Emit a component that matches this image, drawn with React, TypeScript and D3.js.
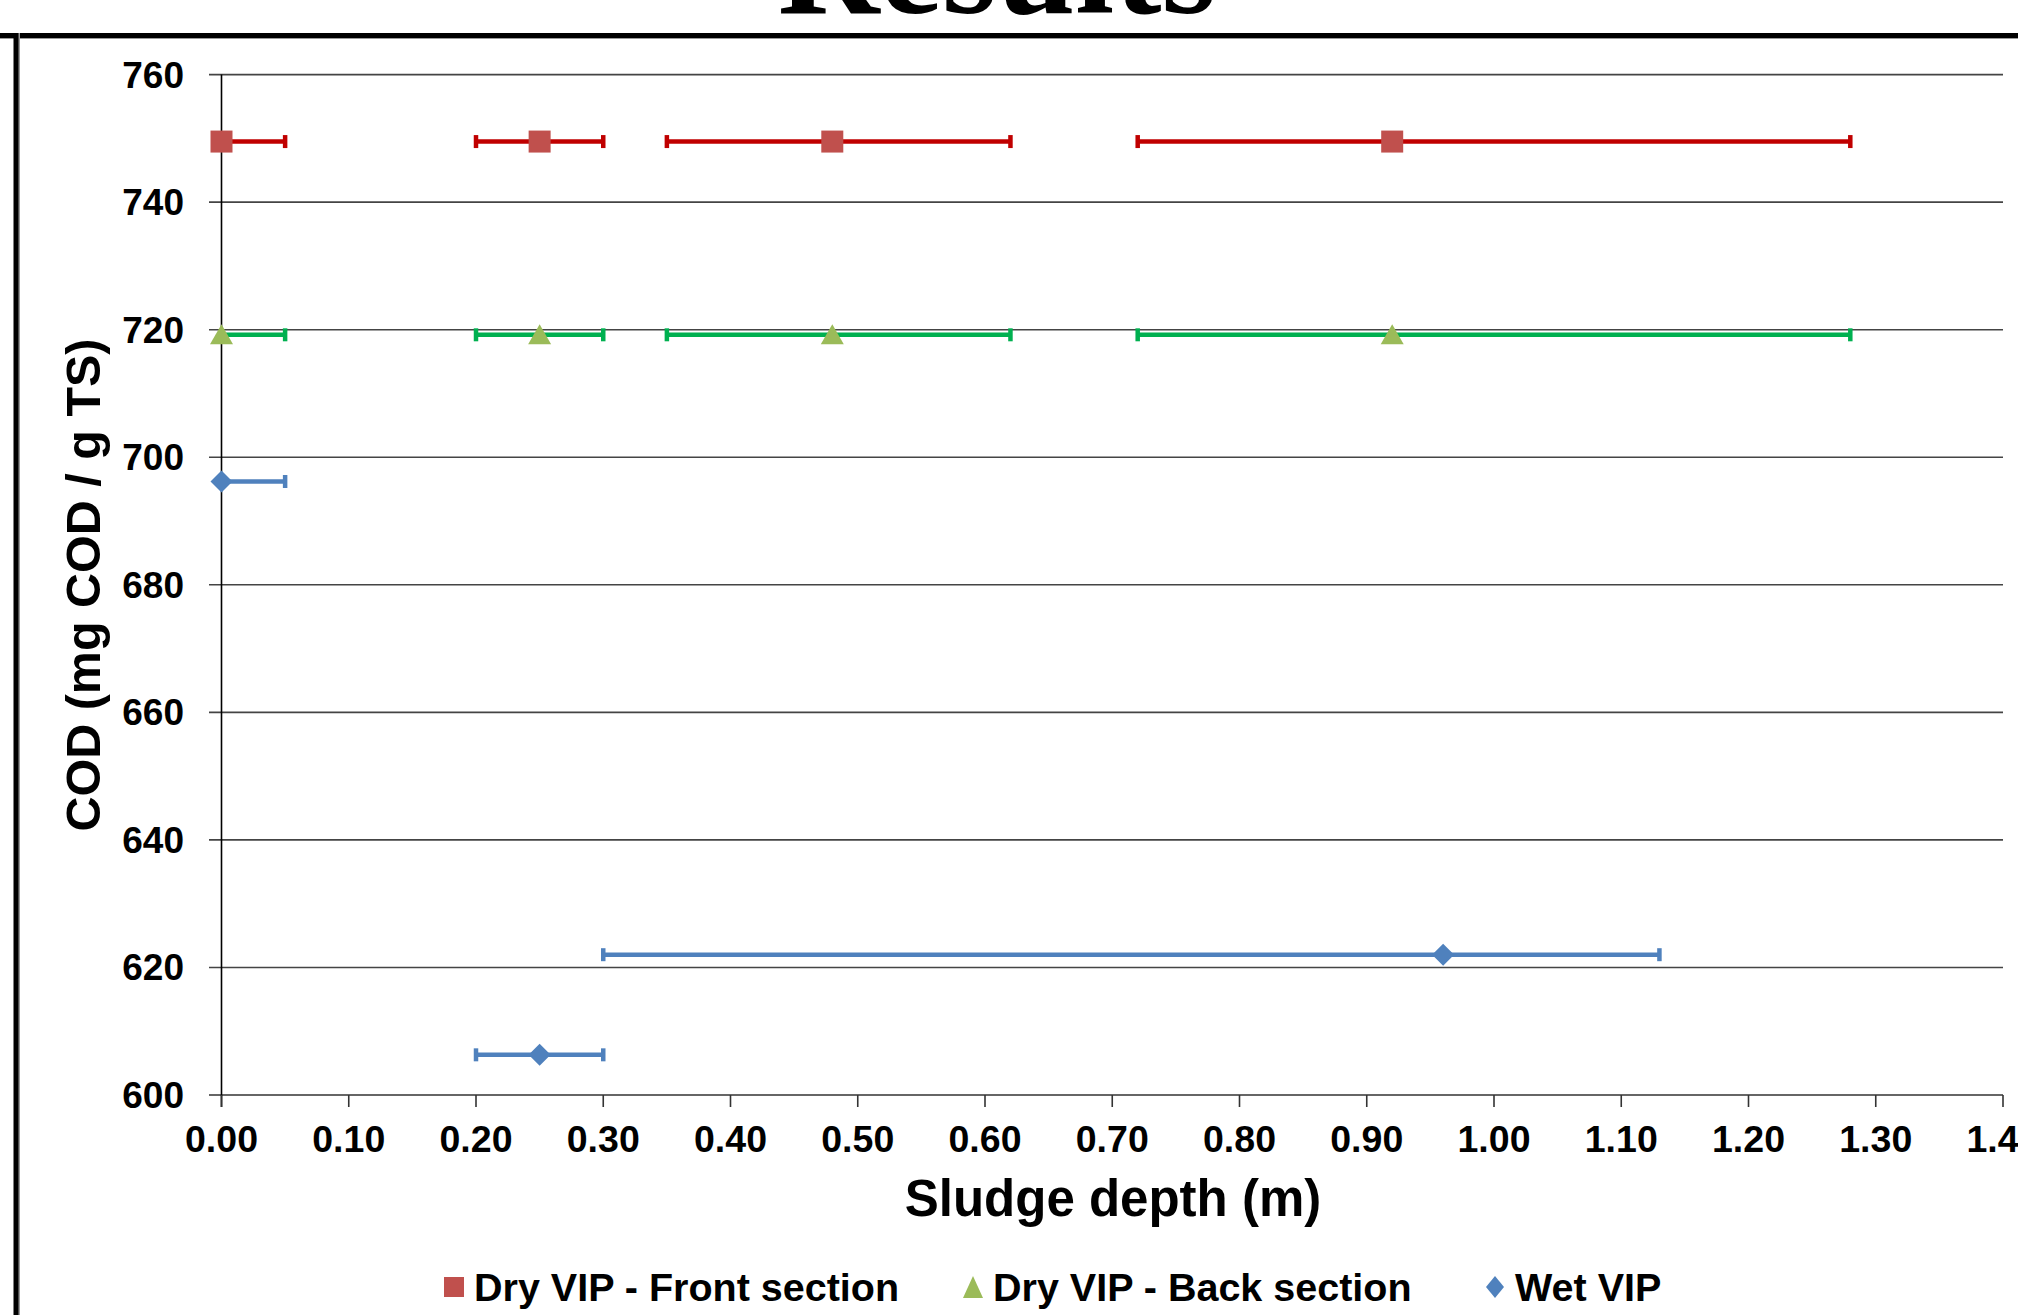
import React from "react";
import * as d3 from "d3";

// sludge depth (m) of each sample point
const dryDepth = [0, 0.25, 0.48, 0.92];
const wetDepth = [0, 0.25, 0.96];

// COD (mg COD / g TS)
const dryFrontCod = [749.5, 749.5, 749.5, 749.5];
const dryBackCod = [719.2, 719.2, 719.2, 719.2];
const wetCod = [696.2, 606.3, 622.0];

// horizontal error bars: depth range covered by each sample
const dryDepthLow = [-0.05, 0.2, 0.35, 0.72];
const dryDepthHigh = [0.05, 0.3, 0.62, 1.28];
const wetDepthLow = [-0.05, 0.2, 0.3];
const wetDepthHigh = [0.05, 0.3, 1.13];

const xTicks = [0, 0.1, 0.2, 0.3, 0.4, 0.5, 0.6, 0.7, 0.8, 0.9, 1.0, 1.1, 1.2, 1.3, 1.4];
const yTicks = [600, 620, 640, 660, 680, 700, 720, 740, 760];

const seriesNames = ["Dry VIP - Front section", "Dry VIP - Back section", "Wet VIP"];

const W = 2018, H = 1315;
const FONT = "'Liberation Sans', Arial, sans-serif";

const x = d3.scaleLinear().domain([0, 1.4]).range([221.5, 2003]);
const y = d3.scaleLinear().domain([600, 760]).range([1095, 74.6]);

// marker shapes (centered on the point)
const squarePath = "M-11,-11H11V11H-11Z";
const trianglePath = "M0,-10.5L11.5,9.5L-11.5,9.5Z";
const diamondPath = "M0,-11L11,0L0,11L-11,0Z";

const series = [
  { name: seriesNames[0], depth: dryDepth, cod: dryFrontCod, lo: dryDepthLow, hi: dryDepthHigh,
    marker: "#C0504D", bar: "#C00000", path: squarePath, legend: "M-10,-10H10V10H-10Z" },
  { name: seriesNames[1], depth: dryDepth, cod: dryBackCod, lo: dryDepthLow, hi: dryDepthHigh,
    marker: "#9BBB59", bar: "#00B050", path: trianglePath, legend: "M0,-11L10,11L-10,11Z" },
  { name: seriesNames[2], depth: wetDepth, cod: wetCod, lo: wetDepthLow, hi: wetDepthHigh,
    marker: "#4F81BD", bar: "#4F81BD", path: diamondPath, legend: "M0,-11L9,0L0,11L-9,0Z" },
];

const fmt = d3.format(".2f");

function ErrorBar({ lo, hi, v, color }: { lo: number; hi: number; v: number; color: string }) {
  const x0 = x(Math.max(lo, 0));
  const x1 = x(hi);
  const yy = y(v);
  return (
    <g stroke={color} strokeWidth={4.5}>
      <line x1={x0} x2={x1} y1={yy} y2={yy} />
      {lo >= 0 && <line x1={x0} x2={x0} y1={yy - 6.5} y2={yy + 6.5} />}
      <line x1={x1} x2={x1} y1={yy - 6.5} y2={yy + 6.5} />
    </g>
  );
}

export default function App() {
  const legendX = [454, 973, 1495];

  return (
    <svg width={W} height={H} style={{ position: "absolute", left: 0, top: 0, background: "#fff" }}>
      <rect width={W} height={H} fill="#fff" />

      {/* slide title, cut off at the top */}
      <text x={997} y={13} textAnchor="middle" fontFamily="'Liberation Serif', 'Times New Roman', serif"
        fontWeight="bold" fontSize={141} fill="#000">Results</text>

      {/* slide frame lines */}
      <line x1={0} x2={W} y1={38} y2={38} stroke="#999" strokeWidth={2} />
      <line x1={0} x2={W} y1={35.5} y2={35.5} stroke="#000" strokeWidth={5} />
      <line x1={19} x2={19} y1={33} y2={H} stroke="#999" strokeWidth={2} />
      <line x1={16} x2={16} y1={33} y2={H} stroke="#000" strokeWidth={5} />

      {/* gridlines and y ticks */}
      {yTicks.map((t) => (
        <g key={t}>
          <line x1={209} x2={x(1.4)} y1={y(t)} y2={y(t)} stroke={t === 600 ? "#333" : "#444"} strokeWidth={1.6} />
          <text x={184} y={y(t)} dy="0.35em" textAnchor="end" fontFamily={FONT} fontWeight="bold"
            fontSize={37} fill="#000">{t}</text>
        </g>
      ))}

      {/* y axis */}
      <line x1={x(0)} x2={x(0)} y1={y(760)} y2={y(600) + 12} stroke="#000" strokeWidth={1.6} />

      {/* x ticks */}
      {xTicks.map((t) => (
        <g key={t}>
          <line x1={x(t)} x2={x(t)} y1={y(600)} y2={y(600) + 12} stroke="#333" strokeWidth={1.6} />
          <text x={x(t)} y={1152} textAnchor="middle" fontFamily={FONT} fontWeight="bold"
            fontSize={37.5} fill="#000">{fmt(t)}</text>
        </g>
      ))}

      {/* axis titles */}
      <text x={1113} y={1216} textAnchor="middle" fontFamily={FONT} fontWeight="bold" fontSize={51}
        fill="#000">Sludge depth (m)</text>
      <text transform="translate(100,585) rotate(-90)" textAnchor="middle" fontFamily={FONT}
        fontWeight="bold" fontSize={48.5} fill="#000">COD (mg COD / g TS)</text>

      {/* error bars */}
      {series.map((s) =>
        s.depth.map((d, i) => (
          <ErrorBar key={s.name + i} lo={s.lo[i]} hi={s.hi[i]} v={s.cod[i]} color={s.bar} />
        ))
      )}

      {/* markers */}
      {series.map((s) =>
        s.depth.map((d, i) => (
          <path key={s.name + "m" + i} d={s.path}
            transform={`translate(${x(d)},${y(s.cod[i])})`} fill={s.marker} />
        ))
      )}

      {/* legend */}
      {series.map((s, i) => (
        <g key={s.name} transform={`translate(${legendX[i]},1287)`}>
          <path d={s.legend} fill={s.marker} />
          <text x={20} dy="0.35em" fontFamily={FONT} fontWeight="bold" fontSize={39.5} fill="#000">
            {s.name}
          </text>
        </g>
      ))}
    </svg>
  );
}
